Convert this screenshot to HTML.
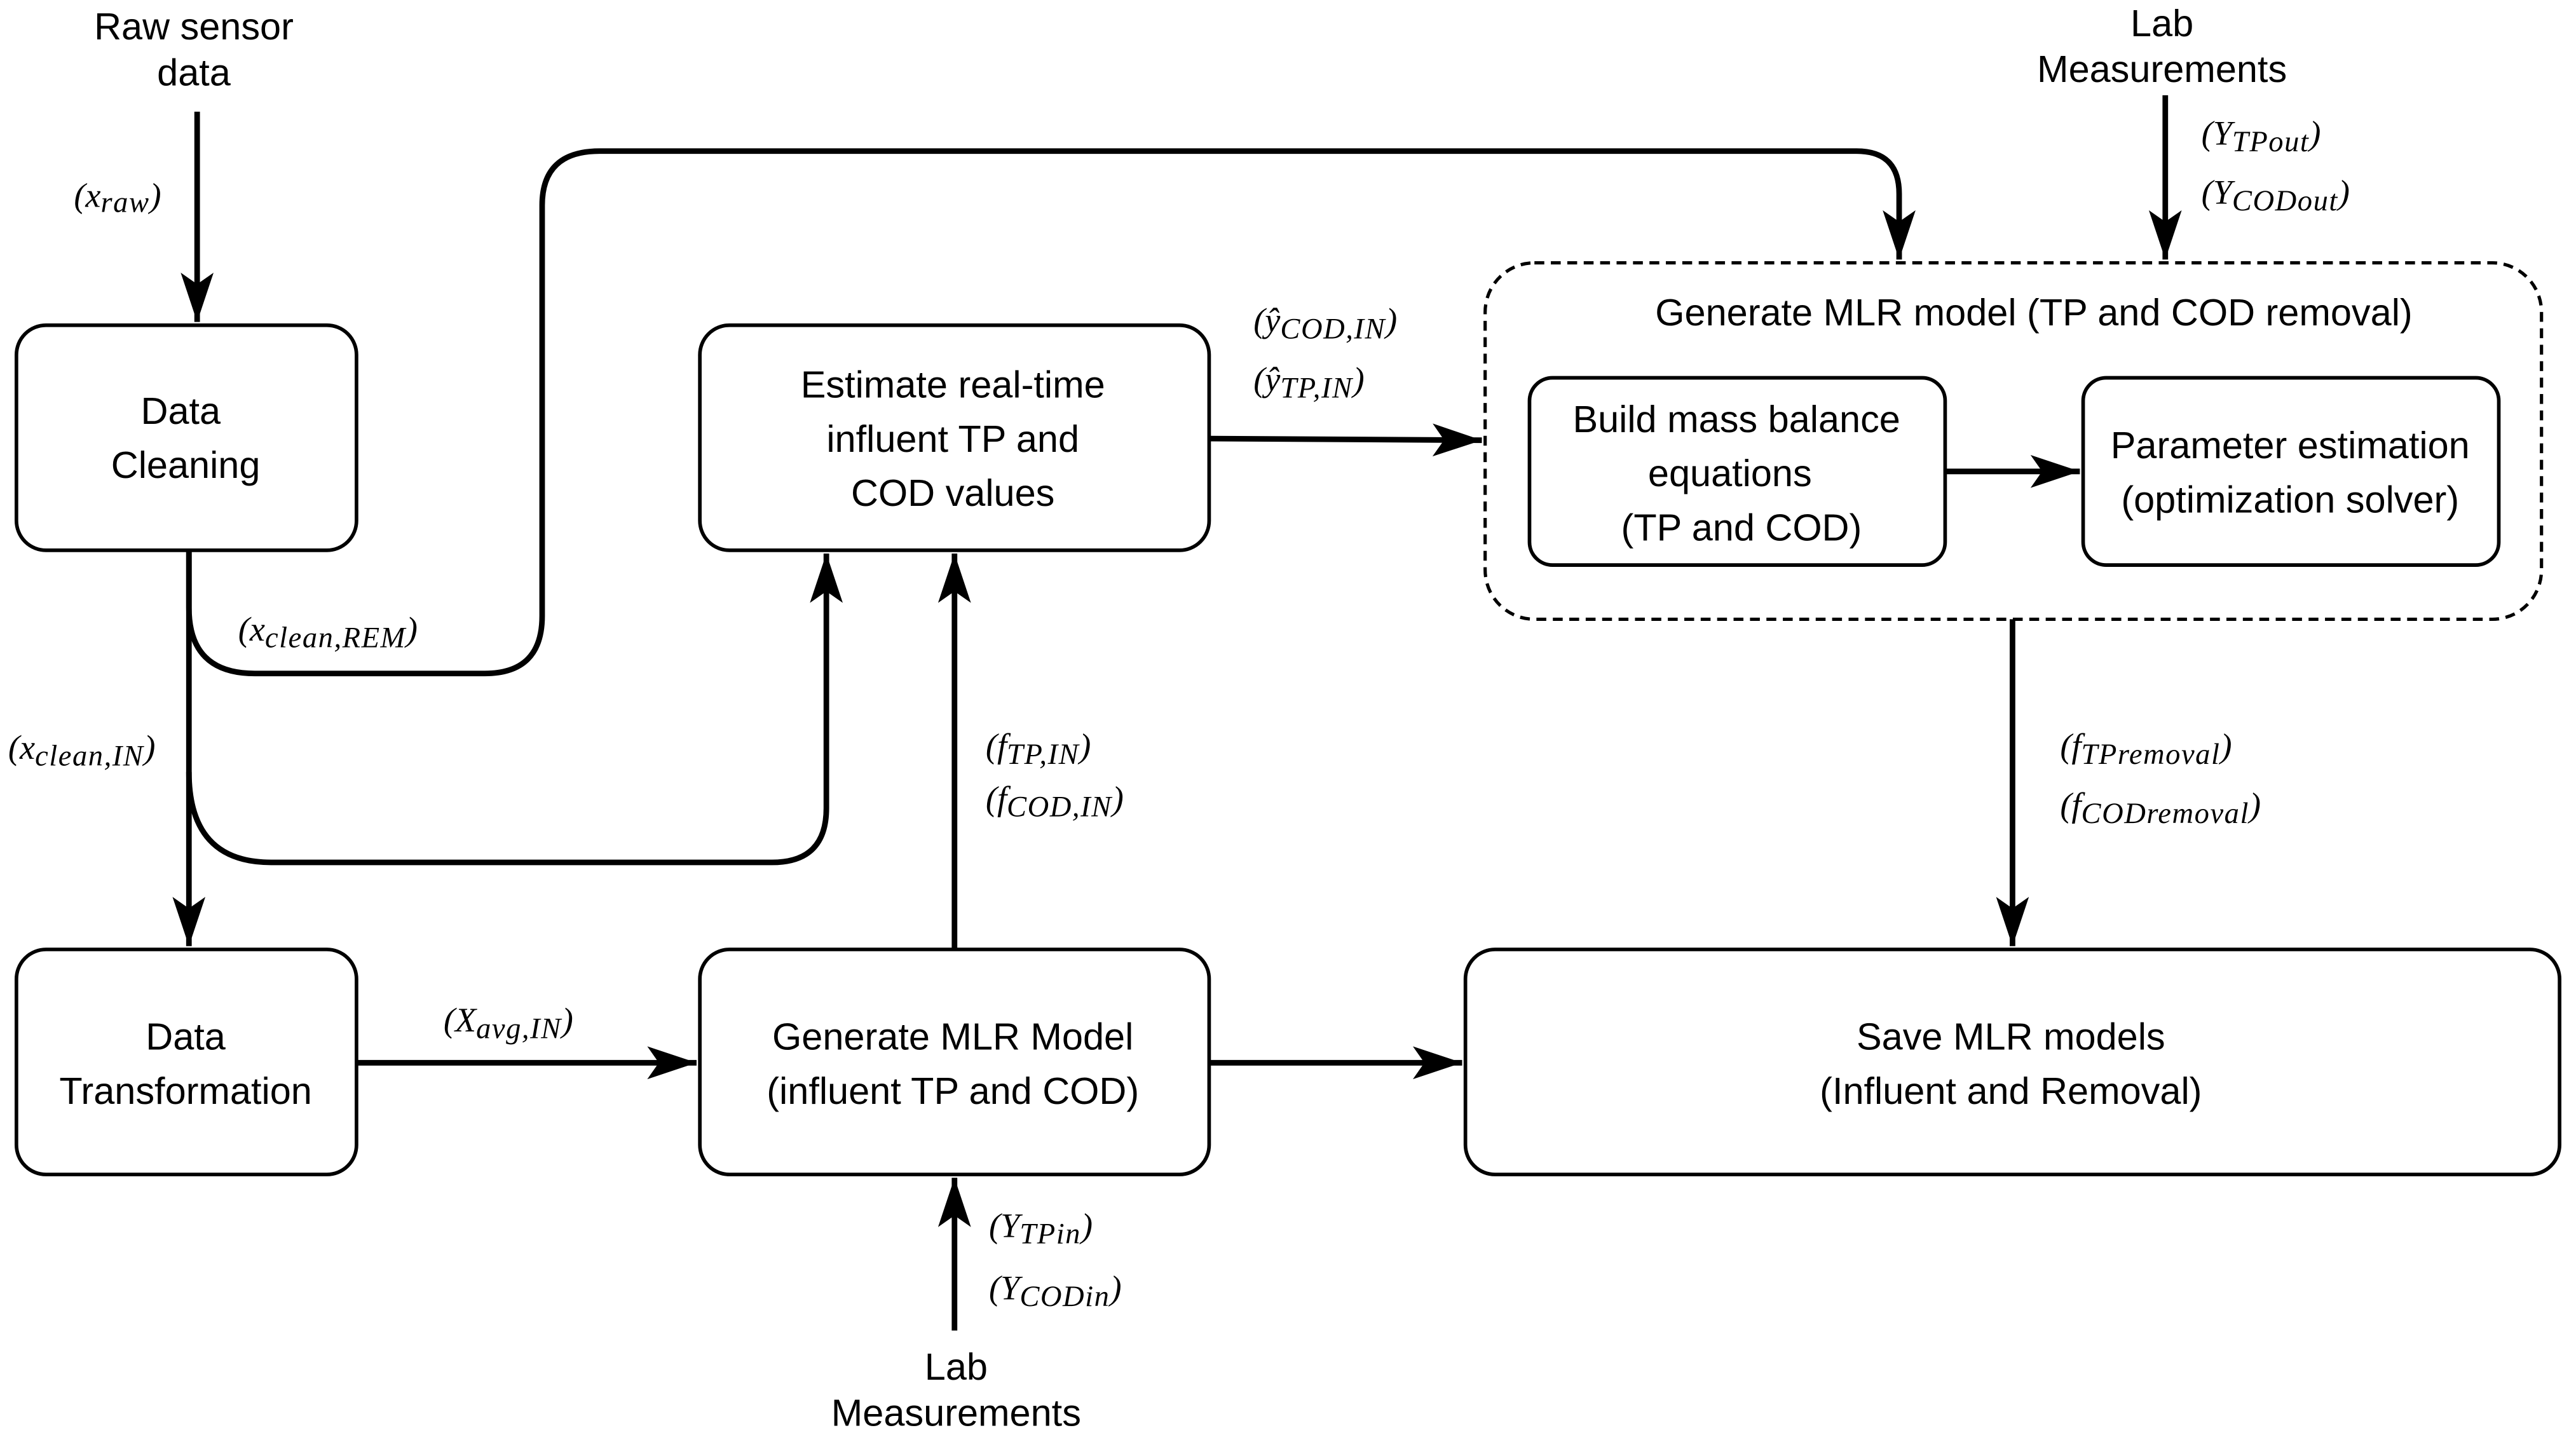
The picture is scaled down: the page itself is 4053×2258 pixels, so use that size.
<!DOCTYPE html>
<html><head><meta charset="utf-8"><style>
html,body{margin:0;padding:0;background:#fff;}
svg{display:block;}
.t{font-family:"Liberation Sans",Arial,sans-serif;font-size:23px;fill:#000;text-anchor:middle;}
.m{font-family:"Liberation Serif",serif;font-style:italic;font-size:21px;fill:#000;}
.m .s{font-size:18px;letter-spacing:0.6px;}
.b{fill:#fff;stroke:#000;stroke-width:2.2;}
.c{fill:none;stroke:#000;stroke-width:3.4;}
</style></head><body>
<svg width="4053" height="2258" viewBox="0 0 1568 873.6" preserveAspectRatio="none" xmlns="http://www.w3.org/2000/svg">
<defs>
<marker id="a" markerUnits="userSpaceOnUse" markerWidth="32" markerHeight="24" refX="30" refY="10" orient="auto">
<path d="M0,0 L30,10 L0,20 L7,10 Z" fill="#000"/>
</marker>
</defs>
<rect x="0" y="0" width="1568" height="874" fill="#fff"/>

<rect class="b" x="10" y="198" width="207" height="137" rx="18"/>
<rect class="b" x="426" y="198" width="310" height="137" rx="18"/>
<rect x="904" y="160" width="643" height="217" rx="30" fill="none" stroke="#000" stroke-width="2" stroke-dasharray="6,4"/>
<rect class="b" x="931" y="230" width="253" height="114" rx="14"/>
<rect class="b" x="1268" y="230" width="253" height="114" rx="14"/>
<rect class="b" x="10" y="578" width="207" height="137" rx="18"/>
<rect class="b" x="426" y="578" width="310" height="137" rx="18"/>
<rect class="b" x="892" y="578" width="666" height="137" rx="18"/>

<path class="c" d="M120,68 L120,196" marker-end="url(#a)"/>
<path class="c" d="M115,335 L115,370 Q115,410 155,410 L295,410 Q330,410 330,375 L330,125 Q330,92 365,92 L1130,92 Q1156,92 1156,118 L1156,158" marker-end="url(#a)"/>
<path class="c" d="M115,335 L115,576" marker-end="url(#a)"/>
<path class="c" d="M115,470 Q115,525 165,525 L470,525 Q503,525 503,492 L503,337" marker-end="url(#a)"/>
<path class="c" d="M736,267 L902,268" marker-end="url(#a)"/>
<path class="c" d="M1318,58 L1318,158" marker-end="url(#a)"/>
<path class="c" d="M1184,287 L1266,287" marker-end="url(#a)"/>
<path class="c" d="M1225,377 L1225,576" marker-end="url(#a)"/>
<path class="c" d="M581,578 L581,337" marker-end="url(#a)"/>
<path class="c" d="M217,647 L424,647" marker-end="url(#a)"/>
<path class="c" d="M736,647 L890,647" marker-end="url(#a)"/>
<path class="c" d="M581,810 L581,717" marker-end="url(#a)"/>

<text class="t" x="110" y="258">Data</text>
<text class="t" x="113" y="291">Cleaning</text>
<text class="t" x="580" y="242">Estimate real-time</text>
<text class="t" x="580" y="275">influent TP and</text>
<text class="t" x="580" y="308">COD values</text>
<text class="t" x="1238" y="198">Generate MLR model  (TP and COD removal)</text>
<text class="t" x="1057" y="263">Build mass balance</text>
<text class="t" x="1053" y="296">equations</text>
<text class="t" x="1060" y="329">(TP and COD)</text>
<text class="t" x="1394" y="279">Parameter estimation</text>
<text class="t" x="1394" y="312">(optimization solver)</text>
<text class="t" x="113" y="639">Data</text>
<text class="t" x="113" y="672">Transformation</text>
<text class="t" x="580" y="639">Generate MLR Model</text>
<text class="t" x="580" y="672">(influent TP and COD)</text>
<text class="t" x="1224" y="639">Save MLR models</text>
<text class="t" x="1224" y="672">(Influent and Removal)</text>

<text class="t" x="118" y="24">Raw sensor</text>
<text class="t" x="118" y="52">data</text>
<text class="t" x="1316" y="22">Lab</text>
<text class="t" x="1316" y="50">Measurements</text>
<text class="t" x="582" y="840">Lab</text>
<text class="t" x="582" y="868">Measurements</text>

<text class="m" x="45" y="126">(x<tspan class="s" dy="3">raw</tspan><tspan dy="-3">)</tspan></text>
<text class="m" x="145" y="390">(x<tspan class="s" dy="4">clean,REM</tspan><tspan dy="-4">)</tspan></text>
<text class="m" x="5" y="462">(x<tspan class="s" dy="4">clean,IN</tspan><tspan dy="-4">)</tspan></text>
<text class="m" x="763" y="202">(ŷ<tspan class="s" dy="4">COD,IN</tspan><tspan dy="-4">)</tspan></text>
<text class="m" x="763" y="238">(ŷ<tspan class="s" dy="4">TP,IN</tspan><tspan dy="-4">)</tspan></text>
<text class="m" x="1340" y="88">(Y<tspan class="s" dy="4">TPout</tspan><tspan dy="-4">)</tspan></text>
<text class="m" x="1340" y="124">(Y<tspan class="s" dy="4">CODout</tspan><tspan dy="-4">)</tspan></text>
<text class="m" x="1254" y="461">(f<tspan class="s" dy="4">TPremoval</tspan><tspan dy="-4">)</tspan></text>
<text class="m" x="1254" y="497">(f<tspan class="s" dy="4">CODremoval</tspan><tspan dy="-4">)</tspan></text>
<text class="m" x="600" y="461">(f<tspan class="s" dy="4">TP,IN</tspan><tspan dy="-4">)</tspan></text>
<text class="m" x="600" y="493">(f<tspan class="s" dy="4">COD,IN</tspan><tspan dy="-4">)</tspan></text>
<text class="m" x="270" y="628">(X<tspan class="s" dy="4">avg,IN</tspan><tspan dy="-4">)</tspan></text>
<text class="m" x="602" y="753">(Y<tspan class="s" dy="4">TPin</tspan><tspan dy="-4">)</tspan></text>
<text class="m" x="602" y="791">(Y<tspan class="s" dy="4">CODin</tspan><tspan dy="-4">)</tspan></text>
</svg>
</body></html>
